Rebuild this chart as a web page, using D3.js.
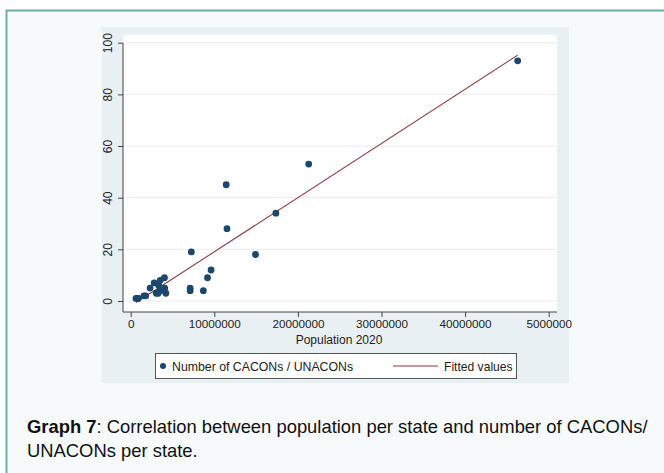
<!doctype html>
<html lang="en">
<head>
<meta charset="utf-8">
<style>
  body { margin: 0; background: #ffffff; font-family: "Liberation Sans", Arial, sans-serif; }
  svg text { font-family: "Liberation Sans", Arial, sans-serif; }
</style>
<script src="https://d3js.org/d3.v7.min.js"></script>
</head>
<body>
<svg id="chart" width="664" height="473"></svg>
<script>
// population 2020 per state and number of CACONs / UNACONs
const states = ["RR", "AP", "AC", "TO", "RO", "SE", "MS", "DF", "PI", "AL", "RN", "MT", "PB", "ES", "AM",
                "GO", "MA", "SC", "PA", "CE", "PE", "RS", "PR", "BA", "RJ", "MG", "SP"];
const population = [631000, 862000, 894000, 1590000, 1797000, 2318000, 2809000, 3055000, 3281000, 3352000,
                    3534000, 3527000, 4039000, 4065000, 4207000, 7114000, 7115000, 7253000, 8690000, 9188000,
                    9616000, 11423000, 11516000, 14930000, 17366000, 21292000, 46289000];
const centers = [1, 1, 1, 2, 2, 5, 7, 3, 3, 6, 8, 4, 9, 5, 3,
                 5, 4, 19, 4, 9, 12, 45, 28, 18, 34, 53, 93];
// fitted line (at min and max population)
const fitX = [631000, 46289000];
const fitY = [-0.6, 95.2];

const xTicks = [0, 10000000, 20000000, 30000000, 40000000, 50000000];
const xTickLabels = ["0", "10000000", "20000000", "30000000", "40000000", "5000000"];
const yTicks = [0, 20, 40, 60, 80, 100];

const svg = d3.select("#chart");

// outer panel
svg.append("rect").attr("x", 6.5).attr("y", 10.5).attr("width", 700).attr("height", 500)
  .attr("fill", "#f7fafa").attr("stroke", "#6fada8").attr("stroke-width", 2);

// graph region
svg.append("rect").attr("x", 102).attr("y", 27).attr("width", 467).attr("height", 356)
  .attr("fill", "#e9f0f3");

const plot = { left: 123, right: 557, top: 35, bottom: 312 };
svg.append("rect").attr("x", plot.left).attr("y", plot.top)
  .attr("width", plot.right - plot.left).attr("height", plot.bottom - plot.top)
  .attr("fill", "#ffffff");

const x = d3.scaleLinear().domain([0, 50000000]).range([130.7, 548.7]);
const y = d3.scaleLinear().domain([0, 100]).range([301, 42.7]);

// gridlines
svg.append("g").selectAll("line").data(yTicks).join("line")
  .attr("x1", plot.left).attr("x2", plot.right)
  .attr("y1", d => y(d)).attr("y2", d => y(d))
  .attr("stroke", "#ececec").attr("stroke-width", 1);

// y axis
const yAxis = svg.append("g").attr("transform", `translate(${plot.left},0)`)
  .call(d3.axisLeft(y).tickValues(yTicks).tickSize(5).tickPadding(4));
yAxis.select(".domain").attr("d", `M0,${plot.top + 8}V${plot.bottom}`).attr("stroke", "#444");
yAxis.selectAll(".tick line").attr("stroke", "#444");
yAxis.selectAll(".tick text")
  .attr("font-size", 12).attr("fill", "#222")
  .attr("transform", "rotate(-90)")
  .attr("x", 0).attr("y", -11).attr("dy", 0)
  .attr("text-anchor", "middle");

// x axis
const xAxis = svg.append("g").attr("transform", `translate(0,${plot.bottom})`)
  .call(d3.axisBottom(x).tickValues(xTicks).tickSize(5).tickPadding(3)
    .tickFormat((d, i) => xTickLabels[i]));
xAxis.select(".domain").attr("d", `M${plot.left},0H${plot.right}`).attr("stroke", "#444");
xAxis.selectAll(".tick line").attr("stroke", "#444");
xAxis.selectAll(".tick text").attr("font-size", 11.7).attr("fill", "#222");

svg.append("text").attr("x", 339).attr("y", 343.5).attr("text-anchor", "middle")
  .attr("font-size", 12).attr("fill", "#222").text("Population 2020");

// fitted line
svg.append("path")
  .datum(fitX.map((d, i) => [d, fitY[i]]))
  .attr("d", d3.line().x(d => x(d[0])).y(d => y(d[1])))
  .attr("fill", "none").attr("stroke", "#8f3a40").attr("stroke-width", 1.1);

// points
svg.append("g").selectAll("circle").data(population).join("circle")
  .attr("cx", d => x(d)).attr("cy", (d, i) => y(centers[i]))
  .attr("r", 3.4).attr("fill", "#1b466d");

// legend
const leg = svg.append("g");
leg.append("rect").attr("x", 155.5).attr("y", 353.5).attr("width", 361).attr("height", 25)
  .attr("fill", "#ffffff").attr("stroke", "#555").attr("stroke-width", 1);
leg.append("circle").attr("cx", 163).attr("cy", 366).attr("r", 3).attr("fill", "#1b466d");
leg.append("text").attr("x", 172).attr("y", 370.5).attr("font-size", 12.3).attr("fill", "#222")
  .text("Number of CACONs / UNACONs");
leg.append("line").attr("x1", 393).attr("x2", 438).attr("y1", 366).attr("y2", 366)
  .attr("stroke", "#8f3a40").attr("stroke-width", 1.1);
leg.append("text").attr("x", 444).attr("y", 370.5).attr("font-size", 12.1).attr("fill", "#222")
  .text("Fitted values");

// caption
const cap = svg.append("text").attr("x", 27).attr("y", 433).attr("font-size", 18.4).attr("fill", "#111");
cap.append("tspan").attr("font-weight", "bold").text("Graph 7");
cap.append("tspan").text(": Correlation between population per state and number of CACONs/");
svg.append("text").attr("x", 27).attr("y", 457).attr("font-size", 18.4).attr("fill", "#111")
  .text("UNACONs per state.");
</script>
</body>
</html>
